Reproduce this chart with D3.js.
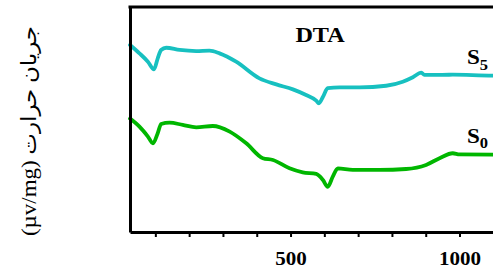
<!DOCTYPE html>
<html>
<head>
<meta charset="utf-8">
<script src="https://cdn.jsdelivr.net/npm/d3@7"></script>
<style>
  html, body { margin: 0; padding: 0; background: #fff; }
  svg { display: block; }
</style>
</head>
<body>
<svg id="chart" width="493" height="268"></svg>
<script>
// ---- data ----
const temps5 = [25, 53, 78, 96, 107, 117, 132, 172, 221, 260, 290, 339, 408, 458, 507, 546, 576, 584, 596, 610, 645, 704, 783, 832, 862, 887, 896, 980, 1097, 1110];
const dtaS5  = [83.1, 79.4, 75.7, 72.3, 77.2, 80.9, 81.9, 80.9, 80.4, 80.6, 79.4, 75.7, 68.3, 65.6, 63.4, 60.9, 58.4, 57.2, 60.1, 63.9, 64.3, 64.3, 65.0, 66.8, 68.8, 70.8, 69.8, 69.9, 69.5, 69.5];
const temps0 = [25, 53, 78, 93, 107, 117, 142, 181, 221, 270, 320, 369, 418, 448, 497, 536, 576, 596, 610, 625, 640, 684, 763, 842, 901, 941, 980, 1000, 1097, 1110];
const dtaS0  = [50.4, 46.8, 42.4, 39.4, 43.9, 48.0, 48.6, 47.6, 46.5, 47.1, 44.6, 39.4, 32.8, 32.0, 28.3, 26.5, 25.8, 23.1, 20.1, 24.6, 28.3, 27.6, 27.6, 28.0, 29.8, 32.8, 35.0, 34.5, 34.4, 34.4];
const xTicks = [100, 200, 300, 400, 500, 600, 700, 800, 900, 1000];
const xTickLabels = ["", "", "", "", "500", "", "", "", "", "1000"];
const seriesNames = ["S", "S"];
const seriesSubs = ["5", "0"];
const chartTitle = "DTA";
const yLabel = "(µv/mg) جریان حرارت";

// ---- drawing ----
const svg = d3.select("#chart");
const x = d3.scaleLinear().domain([25, 1110]).range([130, 496.7]);
const y = d3.scaleLinear().domain([0, 100]).range([232, 7]);
const serif = "'Liberation Serif', 'Times New Roman', 'DejaVu Sans', serif";

const line = d3.line().x(d => x(d[0])).y(d => y(d[1])).curve(d3.curveMonotoneX);

const s5 = temps5.map((t, i) => [t, dtaS5[i]]);
const s0 = temps0.map((t, i) => [t, dtaS0[i]]);

svg.append("path").datum(s5).attr("d", line)
  .attr("fill", "none").attr("stroke", "#17c0c0").attr("stroke-width", 3.8)
  .attr("stroke-linejoin", "round").attr("stroke-linecap", "round");
svg.append("path").datum(s0).attr("d", line)
  .attr("fill", "none").attr("stroke", "#00b600").attr("stroke-width", 3.8)
  .attr("stroke-linejoin", "round").attr("stroke-linecap", "round");

// bottom axis
const xAxis = d3.axisBottom(x).tickValues(xTicks).tickSize(5).tickSizeOuter(0).tickPadding(15)
  .tickFormat((d, i) => xTickLabels[i]);
const gx = svg.append("g").attr("transform", `translate(0,${y(0)})`).call(xAxis);
gx.select(".domain").attr("stroke", "#000").attr("stroke-width", 3);
gx.selectAll(".tick line").attr("stroke", "#000").attr("stroke-width", 2);
gx.selectAll(".tick text").attr("font-family", serif).attr("font-weight", "bold")
  .attr("font-size", 18).attr("fill", "#000")
  .attr("transform", "scale(1.17,1)")
  .attr("x", 0);

// left axis (no ticks)
const yAxis = d3.axisLeft(y).tickValues([]).tickSizeOuter(0);
const gy = svg.append("g").attr("transform", `translate(${x(25)},0)`).call(yAxis);
gy.select(".domain").attr("stroke", "#000").attr("stroke-width", 3);

// top frame line
svg.append("line").attr("x1", x(25) - 1.5).attr("x2", x(1110))
  .attr("y1", y(100)).attr("y2", y(100)).attr("stroke", "#000").attr("stroke-width", 3);

// title
svg.append("text").attr("transform", "translate(320,42) scale(1.1,1)").attr("text-anchor", "middle")
  .attr("font-family", serif).attr("font-weight", "bold").attr("font-size", 22)
  .text(chartTitle);

// series labels
const labelPos = [[467, 64, 6], [467, 143, 5]];
labelPos.forEach((p, i) => {
  const t = svg.append("text").attr("transform", `translate(${p[0]},${p[1]}) scale(1.1,1)`)
    .attr("font-family", serif).attr("font-weight", "bold").attr("font-size", 21);
  t.append("tspan").text(seriesNames[i]);
  t.append("tspan").attr("dy", p[2]).attr("font-size", 15).text(seriesSubs[i]);
});

// y label
svg.append("text")
  .attr("transform", "translate(36,131) rotate(-90) scale(1.12,1)")
  .attr("text-anchor", "middle")
  .attr("font-family", serif).attr("font-size", 20.5)
  .attr("direction", "ltr")
  .text(yLabel);
</script>
</body>
</html>
